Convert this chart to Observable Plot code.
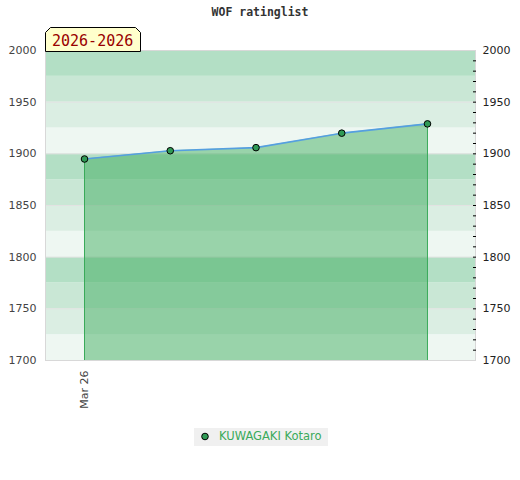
<!DOCTYPE html>
<html>
<head>
<meta charset="utf-8">
<script src="https://cdn.jsdelivr.net/npm/d3@7"></script>
<script src="https://cdn.jsdelivr.net/npm/@observablehq/plot@0.6"></script>
<style>
  body { margin: 0; background: #fff; font-family: "DejaVu Sans", sans-serif; }
  #wrap { position: relative; width: 520px; height: 480px; }
  #title { position: absolute; left: 0; top: 5px; width: 520px; text-align: center;
           font: bold 11.5px "DejaVu Sans Mono", monospace; color: #333; }
  #badge { position: absolute; left: 45px; top: 27px; }
  #legend { position: absolute; left: 194px; top: 428px; width: 134px; height: 18px;
            background: #f0f0f0; }
  #legend span { position: absolute; left: 25px; top: 1px; font-size: 11.5px; color: #3aaa5a; }
  #legend svg { position: absolute; left: 0; top: 0; }
</style>
</head>
<body>
<div id="wrap">
  <div id="title">WOF ratinglist</div>
  <div id="chart"></div>
  <svg id="badge" width="98" height="25">
    <polygon points="0.5,24.5 0.5,5.5 5.5,0.5 90.5,0.5 95.5,5.5 95.5,24.5" fill="#ffffcc" stroke="#000" stroke-width="1"/>
    <text x="7" y="18.5" font-family="DejaVu Sans Mono, monospace" font-size="15" fill="#990000">2026-2026</text>
  </svg>
  <div id="legend">
    <svg width="20" height="18"><circle cx="11" cy="8.5" r="3.3" fill="#2f9a55" stroke="#000" stroke-width="1"/></svg>
    <span>KUWAGAKI Kotaro</span>
  </div>
</div>
<script>
// data
const pointIndex = [0, 1, 2, 3, 4];
const ratings = [1895, 1903, 1906, 1920, 1929];
const tickPositions = [0];
const tickLabels = ["Mar 26"];
const yTicks = [1700, 1750, 1800, 1850, 1900, 1950, 2000];
const minorTicks = [1710,1720,1730,1740,1750,1760,1770,1780,1790,1800,1810,1820,1830,1840,1850,1860,1870,1880,1890,1900,1910,1920,1930,1940,1950,1960,1970,1980,1990];
const bandStarts = [1700,1725,1750,1775,1800,1825,1850,1875,1900,1925,1950,1975];
const bandColors = ["#eef7f2", "#dbeee3", "#c9e7d5", "#b3dfc5"];
const yMin = 1700;

const series = pointIndex.map((x, i) => ({x, r: ratings[i]}));
const edges = [series[0], series[series.length - 1]];

const chart = Plot.plot({
  width: 520,
  height: 420,
  marginLeft: 45,
  marginRight: 45,
  marginTop: 50,
  marginBottom: 60,
  style: { fontFamily: "DejaVu Sans", fontSize: "11px", background: "transparent" },
  x: { type: "linear", domain: [-0.455, 4.56] },
  y: { domain: [1700, 2000] },
  marks: [
    Plot.rect(bandStarts, { y1: d => d, y2: d => d + 25, fill: d => bandColors[((d - 1700) % 100) / 25] }),
    Plot.ruleY(yTicks, { stroke: "#e2e2e2", strokeWidth: 1 }),
    Plot.areaY(series, { x: "x", y1: yMin, y2: "r", fill: "rgb(58,170,90)", fillOpacity: 0.47 }),
    Plot.ruleX(edges, { x: "x", y1: yMin, y2: "r", stroke: "#3aaa5a", strokeWidth: 1 }),
    Plot.line(series, { x: "x", y: "r", stroke: "#559fe0", strokeWidth: 1.6 }),
    Plot.dot(series, { x: "x", y: "r", r: 3.3, fill: "#2f9a55", stroke: "#000", strokeWidth: 1 }),
    Plot.frame({ stroke: "#d8d8d8" }),
    Plot.axisY({ anchor: "left", ticks: yTicks, tickSize: 0, tickPadding: 9, tickFormat: d => String(d), color: "#444", label: null }),
    Plot.axisY({ anchor: "right", ticks: yTicks, tickSize: 0, tickPadding: 7, tickFormat: d => String(d), color: "#222", label: null }),
    Plot.axisY({ anchor: "right", ticks: minorTicks, tickSize: 3, dx: -3, tickFormat: () => "", color: "#000", label: null }),
    Plot.axisX({ ticks: tickPositions, tickFormat: (d, i) => tickLabels[tickPositions.indexOf(d)], tickRotate: -90, tickSize: 0, tickPadding: 10, color: "#444", label: null })
  ]
});
document.getElementById("chart").appendChild(chart);
</script>
</body>
</html>
